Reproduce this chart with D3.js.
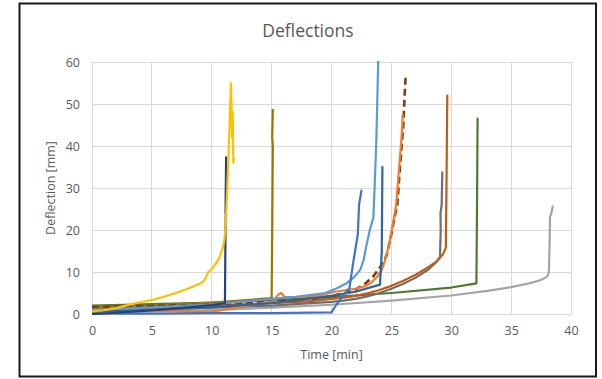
<!DOCTYPE html>
<html><head><meta charset="utf-8">
<script src="https://cdn.jsdelivr.net/npm/d3@7"></script>
<style>body{margin:0;background:#fff}svg{display:block}text{font-family:"Open Sans",sans-serif}</style>
</head><body><svg id="c" width="602" height="379"></svg>
<script>
const title = "Deflections";
const xLabel = "Time [min]";
const yLabel = "Deflection [mm]";
const xTicks = [0,5,10,15,20,25,30,35,40];
const yTicks = [0,10,20,30,40,50,60];

const seriesNames = ["lightGray","green","darkGray","brown","olive","dashedBrown","orange","steelBlue","lightBlue","mediumBlue","navy","yellow"];
const seriesColors = ["#A5A5A5","#4E7A2F","#6F6F6F","#C55A11","#9C7600","#843C0C","#ED7D31","#2D64A0","#5B9BD5","#4472C4","#264478","#FFC000"];
const seriesDashed = [false,false,false,false,false,true,false,false,false,false,false,false];

const lightGray = [[0,0.3],[5,0.6],[10,0.9],[15,1.5],[20,2.2],[25,3.2],[30,4.4],[33,5.5],[35,6.4],[36.5,7.3],[37.5,8.1],[38,8.9],[38.15,9.8],[38.2,15],[38.25,23.2],[38.35,23.8],[38.47,25.6]];
const green = [[0,2.0],[11,2.8],[15,3.3],[20,4.0],[25,5.0],[30,6.3],[32.1,7.3],[32.15,25],[32.2,46.5]];
const darkGray = [[0,0.8],[5,1.1],[10,1.5],[15,2.0],[20,2.9],[21,3.2],[22,3.6],[23,4.2],[24,5.0],[25,6.0],[26,7.2],[27,8.6],[28,10.4],[28.7,12.2],[29.06,13.5],[29.12,20],[29.1,24],[29.2,26],[29.25,33.7]];
const brown = [[0,1.2],[5,1.6],[10,2.0],[15,2.6],[18,3.0],[20,3.6],[21,3.9],[22,4.3],[23,4.9],[24,5.7],[25,6.7],[26,7.9],[27,9.3],[28,11.0],[28.8,12.6],[29.3,14.2],[29.55,15.8],[29.6,30],[29.67,52]];
const olive = [[0,1.5],[5,2.0],[10,2.7],[15,3.8],[15.05,20],[15.1,40],[15.05,42],[15.1,48.6]];
const dashedBrown = [[0,1.6],[5,1.9],[10,2.3],[15,3.0],[19,3.8],[20,4.3],[21,4.9],[22,5.8],[22.8,7.2],[23.5,9.0],[24.1,11.3],[24.6,13.9],[25.0,19.0],[25.3,23.5],[25.5,26],[25.7,34.4],[26.0,45],[26.1,51.8],[26.2,57.1]];
const orange = [[0,1.0],[5,0.8],[10,0.5],[12,1.5],[14,2.5],[15.2,3.0],[15.5,4.5],[15.8,5.0],[16.1,4.0],[17,4.0],[19,4.4],[20.3,5.3],[21,5.6],[22,6.0],[22.7,6.5],[23.3,7.4],[23.8,8.8],[24.2,10.5],[24.5,13],[24.8,16.5],[25.1,21],[25.4,26],[25.65,35],[25.85,42],[25.95,47.4]];
const steelBlue = [[0,0.5],[5,1.0],[10,1.6],[15,2.6],[20,4.3],[22,5.3],[24.05,7.0],[24.2,15],[24.25,35]];
const lightBlue = [[0,1.0],[5,1.6],[10,2.3],[15,3.6],[17,4.1],[19.5,5.0],[20.5,6.2],[21.3,7.4],[21.9,8.8],[22.4,10.5],[22.7,13],[22.9,16.1],[23.2,20],[23.4,22],[23.5,23],[23.6,30],[23.75,42],[23.9,60]];
const mediumBlue = [[0,0.1],[5,0.1],[10,0.2],[15,0.2],[20,0.4],[20.4,2.2],[21.5,6.2],[21.8,12],[22.2,19],[22.3,26],[22.5,29.4]];
const navy = [[0,0],[2,0.3],[4,0.7],[6,1.1],[8,1.6],[10,2.1],[11.1,2.6],[11.15,20],[11.2,30],[11.15,24],[11.2,37.3]];
const yellow = [[0,0.6],[1,0.9],[2,1.4],[3,2.1],[4,2.8],[5,3.3],[6,4.1],[7,5.0],[8,6.0],[9,7.2],[9.3,7.7],[9.5,8.6],[9.7,9.9],[10,10.7],[10.3,11.8],[10.6,13.2],[10.9,15.5],[11.05,17.5],[11.15,20.5],[11.3,30],[11.4,38],[11.5,46],[11.6,55],[11.65,50],[11.7,42],[11.75,48],[11.8,36],[11.85,37]];

const seriesData = {lightGray,green,darkGray,brown,olive,dashedBrown,orange,steelBlue,lightBlue,mediumBlue,navy,yellow};

const svg = d3.select("#c");
const m = {l:92, r:571, t:62, b:314};
const x = d3.scaleLinear().domain([0,40]).range([m.l,m.r]);
const y = d3.scaleLinear().domain([0,60]).range([m.b,m.t]);

svg.append("rect").attr("x",19.5).attr("y",3.5).attr("width",576.5).attr("height",373).attr("fill","#fff").attr("stroke","#1a1a1a").attr("stroke-width",2);

svg.append("text").attr("x",308).attr("y",37).attr("text-anchor","middle").attr("font-size",17.5).attr("fill","#595959").text(title);

const g = svg.append("g");
g.selectAll("line.vg").data(xTicks).join("line").attr("class","vg")
  .attr("x1",d=>x(d)).attr("x2",d=>x(d)).attr("y1",m.t).attr("y2",m.b)
  .attr("stroke","#D9D9D9").attr("stroke-width",1).attr("shape-rendering","crispEdges");
g.selectAll("line.hg").data(yTicks).join("line").attr("class","hg")
  .attr("x1",m.l).attr("x2",m.r).attr("y1",d=>y(d)).attr("y2",d=>y(d))
  .attr("stroke","#D9D9D9").attr("stroke-width",1).attr("shape-rendering","crispEdges");

const xAxis = d3.axisBottom(x).tickValues(xTicks).tickSize(0).tickPadding(12);
const xa = svg.append("g").attr("transform",`translate(0,${m.b})`).call(xAxis);
xa.select(".domain").remove();
xa.selectAll("text").attr("font-size",12.5).attr("fill","#595959").attr("font-family","Open Sans");

const yAxis = d3.axisLeft(y).tickValues(yTicks).tickSize(0).tickPadding(12);
const ya = svg.append("g").attr("transform",`translate(${m.l},0)`).call(yAxis);
ya.select(".domain").remove();
ya.selectAll("text").attr("font-size",12.5).attr("fill","#595959").attr("font-family","Open Sans");

svg.append("text").attr("x",(m.l+m.r)/2).attr("y",359).attr("text-anchor","middle").attr("font-size",12.5).attr("fill","#595959").text(xLabel);
svg.append("text").attr("transform",`translate(55,${(m.t+m.b)/2}) rotate(-90)`).attr("text-anchor","middle").attr("font-size",12.5).attr("fill","#595959").text(yLabel);

const line = d3.line().x(d=>x(d[0])).y(d=>y(d[1])).curve(d3.curveLinear);
svg.append("clipPath").attr("id","pc").append("rect").attr("x",m.l).attr("y",m.t-1).attr("width",m.r-m.l).attr("height",m.b-m.t+2);
const lg = svg.append("g").attr("clip-path","url(#pc)");
seriesNames.forEach((n,i)=>{
  lg.append("path").datum(seriesData[n]).attr("d",line)
    .attr("fill","none").attr("stroke",seriesColors[i]).attr("stroke-width",seriesDashed[i]?2.6:2.2)
    .attr("stroke-linejoin","round").attr("stroke-linecap",seriesDashed[i]?"butt":"round")
    .attr("stroke-dasharray",seriesDashed[i]?"7,4":null);
});
</script></body></html>
